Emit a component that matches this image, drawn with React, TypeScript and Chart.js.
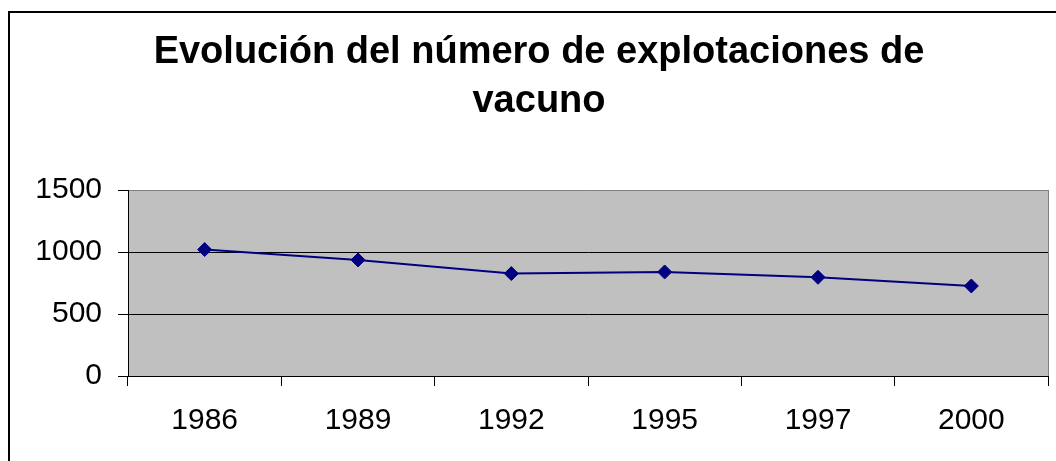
import React, { useEffect, useRef } from "react";
import { Chart, registerables } from "chart.js";

Chart.register(...registerables);

const titleLines = ["Evolución del número de explotaciones de", "vacuno"];
const years = ["1986", "1989", "1992", "1995", "1997", "2000"];
const farms = [1020, 936, 826, 839, 796, 726];
const yTickValues = [0, 500, 1000, 1500];

const FONT = "'Liberation Sans', Arial, sans-serif";

const decorPlugin = {
  id: "decor",
  beforeDraw(chart: any) {
    const { ctx, chartArea } = chart;
    ctx.save();
    ctx.fillStyle = "#C0C0C0";
    ctx.fillRect(chartArea.left, chartArea.top, chartArea.right - chartArea.left, chartArea.bottom - chartArea.top);
    ctx.restore();
  },
  afterDraw(chart: any) {
    const { ctx, chartArea, width, height } = chart;
    ctx.save();
    ctx.strokeStyle = "#808080";
    ctx.lineWidth = 1;
    ctx.beginPath();
    ctx.moveTo(Math.round(chartArea.right) + 0.5, chartArea.top);
    ctx.lineTo(Math.round(chartArea.right) + 0.5, chartArea.bottom);
    ctx.stroke();
    ctx.strokeStyle = "#000";
    ctx.lineWidth = 2;
    ctx.beginPath();
    ctx.moveTo(9, height + 5);
    ctx.lineTo(9, 12);
    ctx.lineTo(width + 5, 12);
    ctx.stroke();
    ctx.restore();
  },
};

export default function App() {
  const canvasRef = useRef<HTMLCanvasElement | null>(null);

  useEffect(() => {
    if (!canvasRef.current) return;
    const chart = new Chart(canvasRef.current, {
      type: "line",
      data: {
        labels: years,
        datasets: [
          {
            data: farms,
            borderColor: "#000080",
            backgroundColor: "#000080",
            borderWidth: 2,
            pointStyle: "rectRot",
            pointRadius: 7,
            pointBorderWidth: 1,
            pointBorderColor: "#000080",
            pointBackgroundColor: "#000080",
            tension: 0,
            fill: false,
          },
        ],
      },
      options: {
        animation: false,
        responsive: true,
        maintainAspectRatio: false,
        layout: { padding: { left: 29, right: 7, top: 0, bottom: 0 } },
        plugins: {
          legend: { display: false },
          tooltip: { enabled: false },
          title: {
            display: true,
            text: titleLines,
            color: "#000",
            font: { family: FONT, size: 38, weight: "bold", lineHeight: 49 / 38 },
            padding: { top: 28, bottom: 64 },
          },
        },
        scales: {
          x: {
            type: "category",
            offset: true,
            grid: {
              offset: true,
              drawOnChartArea: false,
              drawTicks: true,
              tickLength: 10,
              tickColor: "#000",
              color: "#000",
            },
            border: { display: true, color: "#000", width: 1 },
            ticks: {
              color: "#000",
              font: { family: FONT, size: 30 },
              padding: 17,
              maxRotation: 0,
              autoSkip: false,
            },
            afterFit(scale: any) {
              scale.height = 85;
            },
          },
          y: {
            min: 0,
            max: 1500,
            afterBuildTicks(scale: any) {
              scale.ticks = yTickValues.map((v) => ({ value: v }));
            },
            grid: {
              color: (ctx: any) => (ctx.tick && ctx.tick.value === 1500 ? "#808080" : "#000"),
              lineWidth: 1,
              drawTicks: true,
              tickLength: 10,
              tickColor: "#000",
            },
            border: { display: true, color: "#000", width: 1 },
            ticks: {
              color: "#000",
              font: { family: FONT, size: 30 },
              padding: 16,
              callback: (value: any) => String(value),
            },
            afterFit(scale: any) {
              scale.width = 99;
            },
          },
        },
      },
      plugins: [decorPlugin],
    });
    return () => chart.destroy();
  }, []);

  return (
    <div style={{ position: "fixed", left: 0, top: 0, width: 1056, height: 461, background: "#fff" }}>
      <canvas ref={canvasRef} />
    </div>
  );
}
